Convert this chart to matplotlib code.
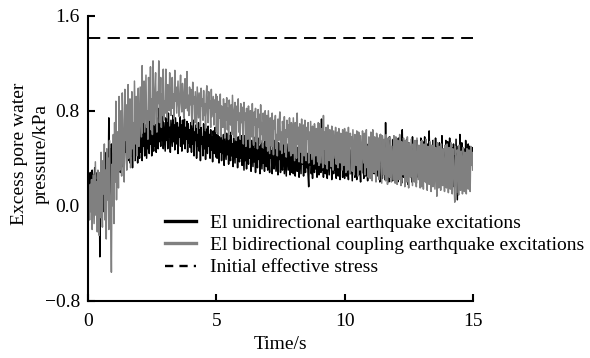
import numpy as np
import matplotlib
matplotlib.use("Agg")
import matplotlib.pyplot as plt

plt.rcParams["font.family"] = ["Liberation Serif", "DejaVu Serif"]

# Sampling interval of the pore-pressure records (s)
dt = 0.025

# Excess pore water pressure (kPa), El unidirectional excitation (one row per second)
uni_pressure = [
    0.10, 0.22, 0.18, 0.28, 0.15, 0.24, 0.30, 0.16, 0.26, 0.20, 0.32, 0.14, 0.22, 0.05, 0.28, 0.18, 0.02, 0.25, -0.43, 0.10, 0.30, 0.08, 0.35, -0.05, 0.28, 0.12, 0.40, 0.00, 0.45, 0.15, 0.38, 0.10, 0.74, 0.20, 0.48, 0.05, 0.52, 0.18, 0.44, 0.25,
    0.55, 0.30, 0.60, 0.38, 0.48, 0.26, 0.62, 0.42, 0.35, 0.58, 0.28, 0.52, 0.64, 0.33, 0.55, 0.40, 0.30, 0.62, 0.45, 0.66, 0.34, 0.58, 0.38, 0.50, 0.68, 0.36, 0.60, 0.42, 0.55, 0.32, 0.66, 0.45, 0.70, 0.38, 0.58, 0.44, 0.64, 0.36, 0.68, 0.48,
    0.40, 0.66, 0.45, 0.72, 0.38, 0.60, 0.50, 0.74, 0.42, 0.68, 0.55, 0.40, 0.76, 0.48, 0.62, 0.44, 0.78, 0.52, 0.66, 0.42, 0.72, 0.56, 0.46, 0.80, 0.50, 0.68, 0.45, 0.74, 0.58, 0.48, 0.82, 0.54, 0.70, 0.50, 0.92, 0.55, 0.76, 0.48, 0.70, 0.58,
    0.46, 0.74, 0.55, 0.70, 0.48, 0.78, 0.58, 0.66, 0.45, 0.72, 0.60, 0.50, 0.76, 0.54, 0.68, 0.47, 0.74, 0.62, 0.52, 0.70, 0.44, 0.66, 0.58, 0.75, 0.50, 0.68, 0.46, 0.72, 0.60, 0.52, 0.73, 0.48, 0.66, 0.56, 0.71, 0.45, 0.69, 0.53, 0.64, 0.49,
    0.70, 0.45, 0.65, 0.52, 0.72, 0.42, 0.62, 0.55, 0.68, 0.40, 0.60, 0.50, 0.70, 0.46, 0.64, 0.38, 0.66, 0.52, 0.58, 0.42, 0.69, 0.48, 0.62, 0.39, 0.65, 0.54, 0.44, 0.67, 0.50, 0.60, 0.40, 0.64, 0.47, 0.58, 0.37, 0.63, 0.52, 0.44, 0.66, 0.41,
    0.60, 0.40, 0.64, 0.48, 0.36, 0.58, 0.45, 0.62, 0.38, 0.55, 0.44, 0.60, 0.34, 0.57, 0.48, 0.39, 0.61, 0.43, 0.54, 0.35, 0.59, 0.46, 0.38, 0.62, 0.42, 0.52, 0.33, 0.57, 0.47, 0.36, 0.60, 0.41, 0.55, 0.32, 0.58, 0.44, 0.37, 0.56, 0.40, 0.59,
    0.34, 0.56, 0.42, 0.30, 0.59, 0.38, 0.50, 0.31, 0.57, 0.44, 0.35, 0.60, 0.40, 0.52, 0.29, 0.55, 0.43, 0.33, 0.58, 0.37, 0.48, 0.28, 0.54, 0.41, 0.32, 0.57, 0.39, 0.50, 0.27, 0.55, 0.42, 0.31, 0.53, 0.36, 0.47, 0.29, 0.56, 0.40, 0.33, 0.52,
    0.30, 0.54, 0.38, 0.28, 0.56, 0.40, 0.46, 0.27, 0.52, 0.36, 0.31, 0.55, 0.42, 0.29, 0.50, 0.35, 0.26, 0.53, 0.39, 0.45, 0.28, 0.51, 0.34, 0.30, 0.54, 0.41, 0.27, 0.49, 0.37, 0.25, 0.52, 0.40, 0.30, 0.48, 0.33, 0.26, 0.53, 0.38, 0.28, 0.50,
    0.27, 0.52, 0.36, 0.25, 0.54, 0.40, 0.29, 0.49, 0.33, 0.24, 0.51, 0.38, 0.27, 0.55, 0.35, 0.46, 0.25, 0.50, 0.37, 0.28, 0.53, 0.32, 0.44, 0.26, 0.16, 0.48, 0.34, 0.52, 0.27, 0.39, 0.23, 0.50, 0.36, 0.28, 0.54, 0.31, 0.45, 0.24, 0.49, 0.33,
    0.26, 0.50, 0.35, 0.28, 0.73, 0.30, 0.48, 0.24, 0.52, 0.37, 0.27, 0.46, 0.33, 0.23, 0.51, 0.39, 0.26, 0.55, 0.32, 0.44, 0.22, 0.49, 0.36, 0.27, 0.53, 0.30, 0.42, 0.23, 0.50, 0.35, 0.25, 0.47, 0.38, 0.22, 0.52, 0.31, 0.45, 0.24, 0.50, 0.34,
    0.23, 0.53, 0.36, 0.25, 0.49, 0.31, 0.22, 0.55, 0.38, 0.27, 0.47, 0.33, 0.21, 0.52, 0.35, 0.43, 0.24, 0.50, 0.30, 0.22, 0.56, 0.37, 0.26, 0.48, 0.32, 0.20, 0.51, 0.39, 0.28, 0.45, 0.23, 0.54, 0.34, 0.25, 0.49, 0.30, 0.21, 0.52, 0.36, 0.44,
    0.24, 0.55, 0.34, 0.22, 0.58, 0.38, 0.27, 0.50, 0.31, 0.21, 0.57, 0.40, 0.25, 0.52, 0.33, 0.20, 0.60, 0.36, 0.46, 0.23, 0.54, 0.30, 0.41, 0.22, 0.70, 0.35, 0.26, 0.55, 0.32, 0.20, 0.58, 0.38, 0.24, 0.49, 0.31, 0.21, 0.56, 0.37, 0.27, 0.53,
    0.22, 0.54, 0.34, 0.20, 0.57, 0.39, 0.26, 0.50, 0.30, 0.19, 0.64, 0.36, 0.24, 0.52, 0.33, 0.44, 0.21, 0.56, 0.31, 0.18, 0.53, 0.38, 0.25, 0.48, 0.29, 0.20, 0.58, 0.35, 0.42, 0.22, 0.51, 0.32, 0.19, 0.55, 0.37, 0.24, 0.47, 0.28, 0.21, 0.57,
    0.33, 0.20, 0.54, 0.36, 0.23, 0.58, 0.31, 0.45, 0.19, 0.52, 0.34, 0.22, 0.63, 0.38, 0.26, 0.49, 0.30, 0.18, 0.55, 0.35, 0.42, 0.21, 0.57, 0.32, 0.24, 0.50, 0.37, 0.17, 0.53, 0.29, 0.44, 0.20, 0.59, 0.34, 0.23, 0.48, 0.31, 0.19, 0.55, 0.36,
    0.22, 0.54, 0.33, 0.18, 0.57, 0.37, 0.25, 0.49, 0.30, 0.16, 0.52, 0.35, 0.42, 0.20, 0.56, 0.31, 0.05, 0.50, 0.36, 0.23, 0.60, 0.33, 0.18, 0.53, 0.38, 0.27, 0.48, 0.30, 0.17, 0.55, 0.36, 0.44, 0.22, 0.52, 0.40, 0.50, 0.34, 0.47, 0.38, 0.49,
    0.42,
]

# Excess pore water pressure (kPa), El bidirectional coupling excitation (one row per second)
bi_pressure = [
    0.00, 0.10, -0.12, 0.18, -0.05, 0.22, -0.20, 0.08, 0.26, -0.15, 0.12, 0.37, -0.08, 0.20, -0.22, 0.30, 0.05, -0.25, 0.28, -0.10, 0.45, 0.02, -0.18, 0.38, 0.10, 0.52, -0.12, 0.30, -0.28, 0.48, 0.05, 0.40, -0.20, 0.55, 0.12, -0.05, -0.56, 0.35, 0.00, 0.60,
    -0.15, 0.70, 0.20, 0.88, 0.05, 0.55, 0.62, 0.15, 0.92, 0.30, 0.45, 0.80, 0.25, 0.95, 0.72, 0.35, 0.20, 0.98, 0.55, 0.85, 0.30, 0.62, 1.02, 0.40, 0.75, 0.90, 0.32, 0.58, 0.96, 0.48, 0.70, 0.38, 1.05, 0.80, 0.52, 0.92, 0.42, 0.68, 0.99, 0.50,
    0.60, 1.00, 0.78, 0.58, 1.18, 0.70, 0.92, 1.05, 0.62, 0.85, 1.10, 0.66, 0.80, 0.56, 1.08, 0.95, 0.72, 1.17, 0.64, 0.90, 0.60, 1.22, 0.84, 0.68, 0.98, 1.12, 0.74, 0.62, 0.96, 0.86, 1.22, 0.70, 0.82, 1.08, 0.66, 0.94, 0.76, 1.15, 0.72, 0.88,
    0.78, 1.15, 0.90, 0.74, 1.02, 0.96, 0.80, 1.12, 0.86, 0.76, 0.98, 1.08, 0.82, 0.94, 0.73, 1.14, 0.88, 1.00, 0.78, 0.92, 1.05, 0.84, 0.75, 0.97, 1.10, 0.86, 0.79, 1.03, 0.90, 0.74, 0.95, 1.07, 0.82, 0.88, 1.13, 0.80, 0.93, 0.76, 1.00, 0.85,
    0.98, 0.78, 0.68, 1.04, 0.86, 0.92, 0.70, 0.96, 0.82, 0.66, 1.00, 0.88, 0.74, 0.95, 0.80, 0.67, 0.99, 0.84, 0.90, 0.72, 0.97, 0.76, 0.86, 0.65, 0.93, 1.01, 0.78, 0.70, 0.96, 0.82, 0.88, 0.66, 0.98, 0.75, 0.84, 0.92, 0.68, 0.89, 0.79, 0.94,
    0.62, 0.92, 0.80, 0.60, 0.88, 0.74, 0.94, 0.58, 0.84, 0.70, 0.66, 0.90, 0.78, 0.57, 0.86, 0.72, 0.91, 0.64, 0.82, 0.56, 0.89, 0.76, 0.68, 0.85, 0.60, 0.93, 0.74, 0.58, 0.80, 0.87, 0.66, 0.55, 0.84, 0.72, 0.90, 0.62, 0.78, 0.56, 0.86, 0.70,
    0.83, 0.64, 0.52, 0.87, 0.72, 0.78, 0.50, 0.82, 0.66, 0.56, 0.84, 0.70, 0.49, 0.80, 0.75, 0.58, 0.86, 0.62, 0.51, 0.79, 0.68, 0.82, 0.54, 0.73, 0.48, 0.81, 0.66, 0.77, 0.52, 0.85, 0.60, 0.70, 0.49, 0.78, 0.64, 0.55, 0.80, 0.72, 0.50, 0.76,
    0.46, 0.80, 0.62, 0.44, 0.74, 0.68, 0.50, 0.78, 0.58, 0.43, 0.72, 0.65, 0.76, 0.48, 0.60, 0.42, 0.73, 0.55, 0.70, 0.79, 0.47, 0.62, 0.44, 0.71, 0.66, 0.52, 0.75, 0.45, 0.64, 0.41, 0.72, 0.58, 0.68, 0.46, 0.74, 0.53, 0.42, 0.70, 0.61, 0.44,
    0.74, 0.55, 0.38, 0.70, 0.62, 0.40, 0.78, 0.52, 0.66, 0.37, 0.69, 0.58, 0.45, 0.73, 0.36, 0.60, 0.68, 0.42, 0.72, 0.50, 0.38, 0.66, 0.56, 0.70, 0.36, 0.62, 0.44, 0.71, 0.54, 0.39, 0.67, 0.48, 0.35, 0.69, 0.60, 0.42, 0.65, 0.52, 0.37, 0.70,
    0.34, 0.69, 0.52, 0.36, 0.65, 0.58, 0.32, 0.76, 0.48, 0.62, 0.35, 0.66, 0.44, 0.31, 0.68, 0.55, 0.38, 0.64, 0.60, 0.33, 0.67, 0.46, 0.30, 0.63, 0.52, 0.40, 0.66, 0.35, 0.58, 0.62, 0.32, 0.65, 0.48, 0.36, 0.61, 0.54, 0.30, 0.64, 0.42, 0.34,
    0.65, 0.48, 0.28, 0.62, 0.54, 0.30, 0.66, 0.40, 0.27, 0.61, 0.50, 0.58, 0.29, 0.64, 0.44, 0.26, 0.60, 0.52, 0.34, 0.63, 0.38, 0.25, 0.62, 0.56, 0.30, 0.59, 0.42, 0.27, 0.63, 0.48, 0.36, 0.61, 0.26, 0.55, 0.64, 0.32, 0.50, 0.24, 0.58, 0.45,
    0.23, 0.62, 0.44, 0.21, 0.64, 0.50, 0.28, 0.58, 0.36, 0.20, 0.61, 0.54, 0.30, 0.57, 0.22, 0.46, 0.60, 0.40, 0.19, 0.59, 0.52, 0.26, 0.56, 0.34, 0.21, 0.60, 0.48, 0.18, 0.57, 0.42, 0.24, 0.58, 0.55, 0.20, 0.50, 0.37, 0.22, 0.59, 0.44, 0.19,
    0.58, 0.40, 0.18, 0.55, 0.48, 0.22, 0.60, 0.34, 0.17, 0.54, 0.44, 0.26, 0.57, 0.50, 0.16, 0.55, 0.30, 0.20, 0.58, 0.42, 0.15, 0.53, 0.46, 0.24, 0.56, 0.36, 0.17, 0.52, 0.48, 0.20, 0.55, 0.28, 0.16, 0.57, 0.40, 0.22, 0.51, 0.45, 0.15, 0.54,
    0.16, 0.55, 0.38, 0.14, 0.52, 0.44, 0.20, 0.56, 0.30, 0.13, 0.50, 0.42, 0.18, 0.54, 0.26, 0.12, 0.51, 0.46, 0.16, 0.55, 0.34, 0.14, 0.49, 0.40, 0.08, 0.53, 0.28, 0.15, 0.50, 0.44, 0.13, 0.52, 0.36, 0.17, 0.48, 0.24, 0.12, 0.51, 0.42, 0.15,
    0.52, 0.34, 0.11, 0.49, 0.40, 0.14, 0.53, 0.26, 0.10, 0.48, 0.38, 0.16, 0.03, 0.50, 0.32, 0.11, 0.47, 0.42, 0.09, 0.51, 0.28, 0.13, 0.46, 0.36, 0.10, 0.49, 0.44, 0.12, 0.45, 0.30, 0.10, 0.48, 0.38, 0.14, 0.47, 0.25, 0.12, 0.50, 0.34, 0.45,
    0.30,
]

# Initial effective stress (kPa)
initial_stress = 1.41

labels = [
    "El unidirectional earthquake excitations",
    "El bidirectional coupling earthquake excitations",
    "Initial effective stress",
]
x_ticks = [0, 5, 10, 15]
y_ticks = [-0.8, 0.0, 0.8, 1.6]
y_tick_labels = ["\u22120.8", "0.0", "0.8", "1.6"]

t_uni = np.arange(len(uni_pressure)) * dt
t_bi = np.arange(len(bi_pressure)) * dt

fig = plt.figure(figsize=(5.9, 3.58), dpi=100)
ax = fig.add_axes([0.1497, 0.160, 0.6515, 0.796])

ax.plot(t_uni, uni_pressure, color="black", lw=1.1, label=labels[0])
ax.plot(t_bi, bi_pressure, color="#808080", lw=1.1, label=labels[1])
ax.plot([0, 15], [initial_stress, initial_stress], color="black", lw=1.4,
        ls=(0, (6.3, 3.8)), label=labels[2])

ax.set_xlim(0, 15)
ax.set_ylim(-0.8, 1.6)
ax.set_xticks(x_ticks)
ax.set_xticklabels([str(v) for v in x_ticks])
ax.set_yticks(y_ticks)
ax.set_yticklabels(y_tick_labels)

for side in ("top", "right"):
    ax.spines[side].set_visible(False)
for side in ("left", "bottom"):
    ax.spines[side].set_linewidth(1.5)
ax.tick_params(direction="in", length=5, width=1.5, labelsize=14)
ax.tick_params(axis="x", pad=9)
ax.tick_params(axis="y", pad=6)

ax.set_xlabel("Time/s", fontsize=14, labelpad=4)
ax.set_ylabel("Excess pore water\npressure/kPa", fontsize=14, linespacing=1.35)
ax.yaxis.set_label_coords(-0.100, 0.514)

leg = ax.legend(loc="lower left", bbox_to_anchor=(0.2, 0.085), frameon=False,
                fontsize=14, handlelength=1.6, handletextpad=0.7,
                labelspacing=0.25, borderaxespad=0.0, borderpad=0.0)
leg_lines = leg.get_lines()
for line in leg_lines[:2]:
    line.set_linewidth(2.4)
leg_lines[2].set_linewidth(1.7)
leg_lines[2].set_dashes((3.5, 2.6))

fig.savefig("out.png", dpi=100)
